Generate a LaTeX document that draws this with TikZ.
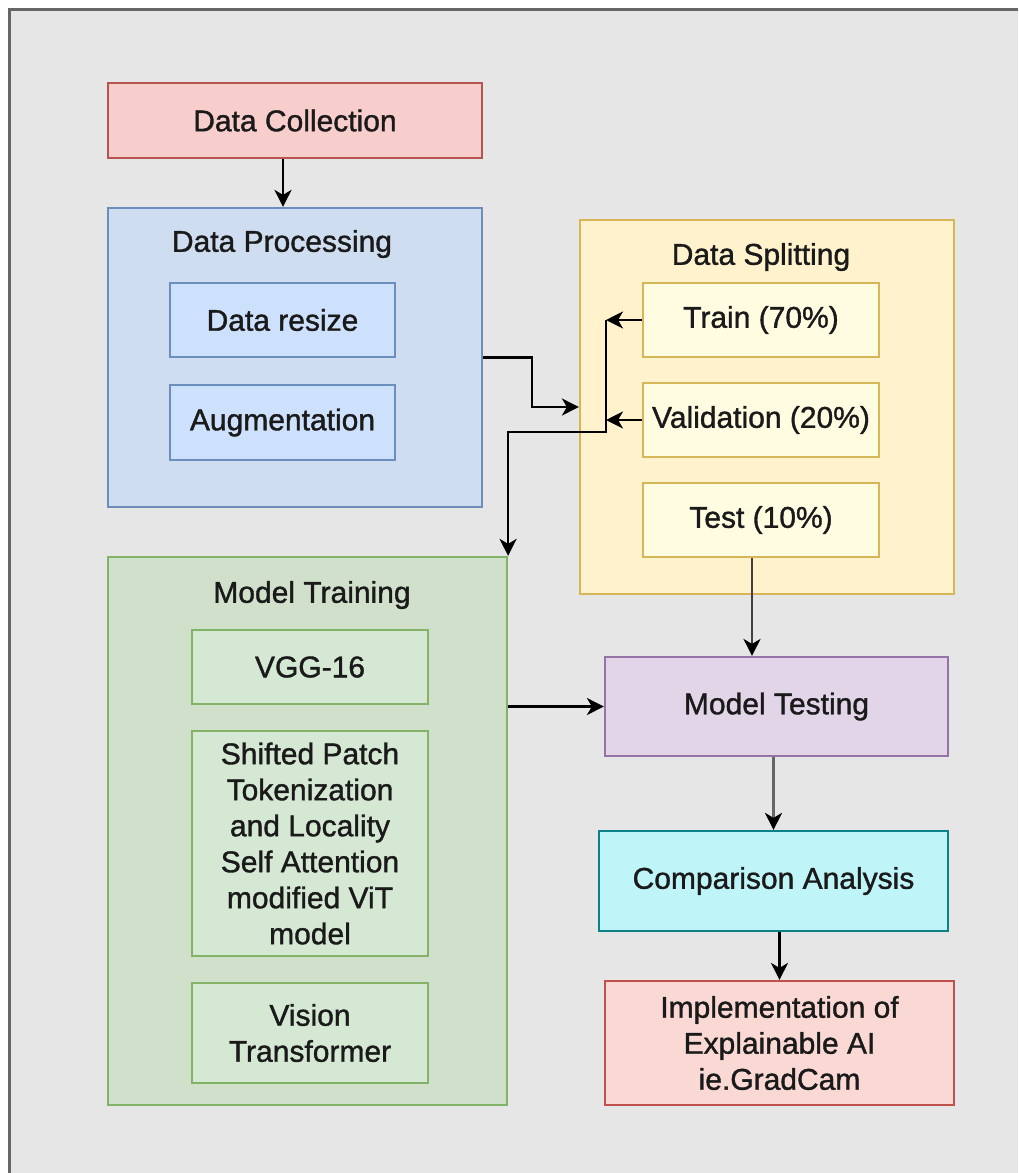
\documentclass[tikz,border=0pt]{standalone}
\usepackage{fontspec}
\setmainfont{Liberation Sans}[BoldFont=Liberation Sans, BoldFeatures={FakeBold=1.2}]
\usetikzlibrary{arrows.meta,calc}
\definecolor{bgc}{HTML}{E6E6E6}
\definecolor{framec}{HTML}{666666}
\definecolor{redf}{HTML}{F8CECC}
\definecolor{redd}{HTML}{B85450}
\definecolor{impf}{HTML}{FAD9D5}
\definecolor{impd}{HTML}{C0504D}
\definecolor{bluecf}{HTML}{CFDDF0}
\definecolor{bluef}{HTML}{CDE0FC}
\definecolor{blued}{HTML}{6C8EBF}
\definecolor{yelcf}{HTML}{FFF2CC}
\definecolor{yelf}{HTML}{FFFCE2}
\definecolor{yeld}{HTML}{D6B656}
\definecolor{grncf}{HTML}{D0E0CB}
\definecolor{grnf}{HTML}{D5E8D4}
\definecolor{grnd}{HTML}{82B366}
\definecolor{purf}{HTML}{E1D5E7}
\definecolor{purd}{HTML}{9673A6}
\definecolor{cyanf}{HTML}{BFF5F8}
\definecolor{cyand}{HTML}{0E8088}
\definecolor{txt}{HTML}{1A1A1A}
\tikzset{
  box/.style={draw, line width=2.2pt, inner sep=0pt, align=center, text=txt,
    font=\fontsize{30}{36}\selectfont\bfseries},
  ttl/.style={inner sep=0pt, text=txt, font=\fontsize{30}{36}\selectfont\bfseries},
  arr/.style={line width=2.5pt, -{Stealth[length=17pt,width=17pt,inset=5pt,color=black]}},
}
\begin{document}
\begin{tikzpicture}[x=1pt,y=-1pt]
\useasboundingbox (0,0) rectangle (1018,1173);
% background frame
\fill[bgc] (9,9) rectangle (1018,1173);
\draw[framec, line width=3pt] (9,1173) -- (9,9) -- (1018,9);

% containers
\node[box, fill=bluecf, draw=blued, minimum width=374pt, minimum height=299pt] (dp) at (295,357.5) {};
\node[ttl] (dpt) at (282,244) {Data Processing};
\node[box, fill=yelcf, draw=yeld, minimum width=374pt, minimum height=374pt] (ds) at (767,407) {};
\node[ttl] (dst) at (761,257) {Data Splitting};
\node[box, fill=grncf, draw=grnd, minimum width=399pt, minimum height=548pt] (mt) at (307.5,831) {};
\node[ttl] (mtt) at (312,595) {Model Training};

% simple boxes
\node[box, fill=redf, draw=redd, minimum width=374pt, minimum height=75pt] (dc) at (295,120.5) {Data Collection};
\node[box, fill=bluef, draw=blued, minimum width=225pt, minimum height=74pt] (rs) at (282.5,320) {Data resize};
\node[box, fill=bluef, draw=blued, minimum width=225pt, minimum height=75pt] (aug) at (282.5,422.5) {Augmentation};
\node[box, fill=yelf, draw=yeld, minimum width=236pt, minimum height=74pt] (train) at (761,320) {Train (70\%)};
\node[box, fill=yelf, draw=yeld, minimum width=236pt, minimum height=74pt] (val) at (761,420) {Validation (20\%)};
\node[box, fill=yelf, draw=yeld, minimum width=236pt, minimum height=74pt] (test) at (761,520) {Test (10\%)};
\node[box, fill=grnf, draw=grnd, minimum width=236pt, minimum height=74pt] (vgg) at (310,667) {VGG-16};
\node[box, fill=grnf, draw=grnd, minimum width=236pt, minimum height=225pt] (sp) at (310,843.5) {Shifted Patch\\Tokenization\\and Locality\\Self Attention\\modified ViT\\model};
\node[box, fill=grnf, draw=grnd, minimum width=236pt, minimum height=100pt] (vit) at (310,1033) {Vision\\Transformer};
\node[box, fill=purf, draw=purd, minimum width=343pt, minimum height=99pt] (mtest) at (776.5,706.5) {Model Testing};
\node[box, fill=cyanf, draw=cyand, minimum width=349pt, minimum height=100pt] (comp) at (773.5,881) {Comparison Analysis};
\node[box, fill=impf, draw=impd, minimum width=349pt, minimum height=124pt] (impl) at (779.5,1043) {Implementation of\\Explainable AI\\ie.GradCam};

% connectors
\draw[arr] ([xshift=-12pt]dc.south) -- ([xshift=-12pt]dp.north);
\draw[arr] (dp.east) -- ++(49,0) |- (ds.west);
\coordinate (j1) at (606,320);
\coordinate (j2) at (606,432);
\draw[arr] (train.west) -- (train.west -| j1);
\draw[arr] (val.west) -- (val.west -| j1);
\draw[arr] (j1) -- (j2) -| (mt.north east);
\draw[arr] (mt.east |- mtest.west) -- (mtest.west);
\draw[arr, draw=black!75] ([xshift=-9pt]test.south) -- ([xshift=-9pt]test.south |- mtest.north);
\draw[arr, draw=black!60, line width=3pt] (mtest.south -| comp.north) -- (comp.north);
\draw[arr] (comp.south -| impl.north) -- (impl.north);
\end{tikzpicture}
\end{document}
